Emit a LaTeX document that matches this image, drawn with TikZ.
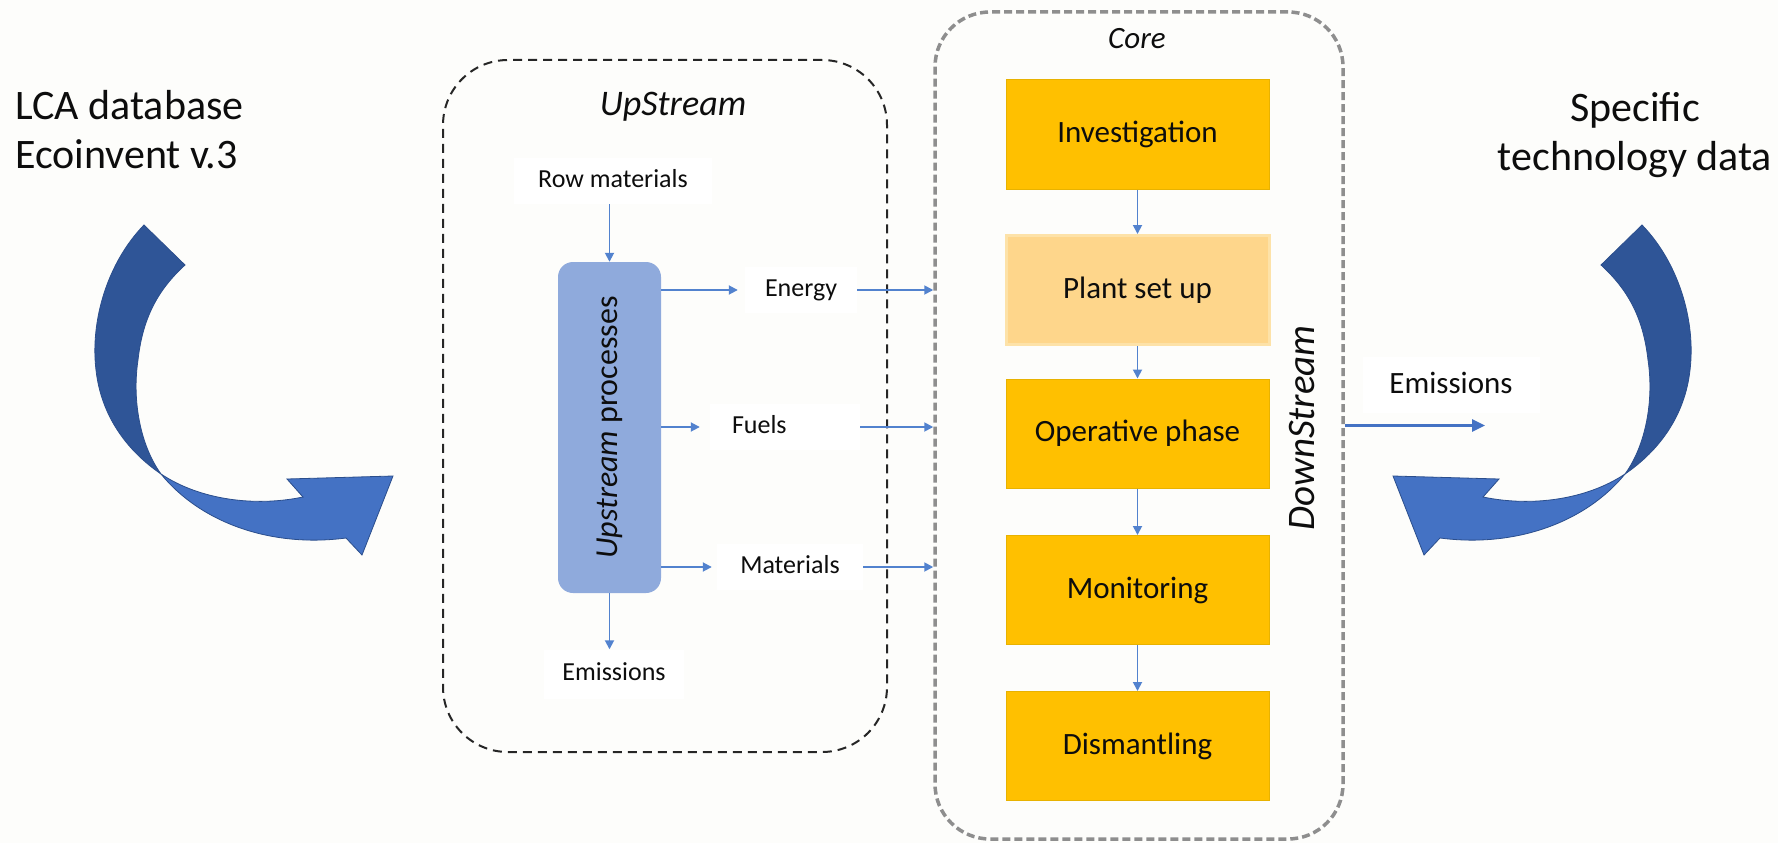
\documentclass[tikz,border=0pt]{standalone}
\usepackage{fontspec}
\setmainfont{Carlito}
\usetikzlibrary{arrows.meta}

\definecolor{canvas}{HTML}{FDFDFB}
\definecolor{ink}{HTML}{0D0D0D}
\definecolor{flowblue}{HTML}{5282CE}
\definecolor{procblue}{HTML}{8FAADC}
\definecolor{stageorange}{HTML}{FFC000}
\definecolor{stageedge}{HTML}{E8B200}
\definecolor{setupfill}{HTML}{FED68B}
\definecolor{setupedge}{HTML}{FDE2A8}
\definecolor{coregray}{HTML}{8E8E8E}
\definecolor{frameblack}{HTML}{262626}
\definecolor{ribbondark}{HTML}{2F5597}
\definecolor{ribbonlight}{HTML}{4472C4}
\definecolor{ribbonedge}{HTML}{2B4E8C}

\newcommand{\pxfont}[2]{\fontsize{#1pt}{#2pt}\selectfont}

% twisted curved arrow, drawn as a dark back half and a light front half
\tikzset{
  bendarrow/.pic={
    \fill[ribbondark, draw=ribbonedge, line width=0.8pt]
      (144,225) .. controls (108,262) and (90,320) .. (96,370)
      .. controls (101,415) and (126,450) .. (161,474)
      .. controls (140,445) and (132,400) .. (138,360)
      .. controls (143,315) and (160,288) .. (185,265) -- cycle;
    \fill[ribbonlight, draw=ribbonedge, line width=0.8pt]
      (161,474) .. controls (200,522) and (270,548) .. (346,538)
      -- (362,555) -- (393,476) -- (287,479) -- (303,497)
      .. controls (255,507) and (200,500) .. (161,474) -- cycle;
  }
}

\begin{document}
\begin{tikzpicture}[x=1pt, y=-1pt,
  flow/.style={draw=flowblue, line width=1.8pt, -{Triangle[length=9pt,width=9pt]}},
  bigflow/.style={draw=ribbonlight, line width=2.6pt, -{Triangle[length=13pt,width=12pt]}},
  lbl/.style={fill=white, text=ink, inner xsep=0pt, inner ysep=0pt,
    font=\pxfont{26}{31}, text height=19pt, text depth=6pt, align=center},
  stage/.style={draw=stageedge, fill=stageorange, line width=1pt, text=ink,
    minimum width=263pt, minimum height=109pt, inner sep=0pt, font=\pxfont{31}{37}},
  upframe/.style={draw=frameblack, line width=2pt, dash pattern=on 9pt off 6pt,
    rounded corners=65pt, inner sep=0pt},
  coreframe/.style={draw=coregray, line width=3.5pt, dash pattern=on 8pt off 4pt,
    rounded corners=55pt, inner sep=0pt},
  bigtext/.style={text=ink, inner sep=0pt, font=\pxfont{42}{49}},
]
% canvas
\fill[canvas] (0,0) rectangle (1778,843);
\useasboundingbox (0,0) rectangle (1778,843);

% side captions (anchored on the baseline of their last line) and curved arrows
\node[bigtext, anchor=base west, align=left] (lca) at (15,168)
  {LCA database\\Ecoinvent v.3};
\node[bigtext, anchor=base, align=center] (spec) at (1635,170)
  {Specific\\technology data};
\pic at (0,0) {bendarrow};
\pic[xscale=-1] at (1786,0) {bendarrow};

% upstream frame
\node[upframe, minimum width=444pt, minimum height=692pt] (upframe) at (665,406) {};
\node[text=ink, inner sep=0pt, font=\pxfont{36}{43}\itshape, anchor=base] (uptitle)
  at (673,115) {UpStream};

\node[fill=procblue, rounded corners=15pt, minimum width=103pt, minimum height=331pt,
  inner sep=0pt, text=ink, font=\pxfont{32}{38}] (upbox) at (609.5,427.5)
  {\rotatebox{90}{\textit{Upstream} processes}};

\node[lbl, minimum width=198pt, minimum height=46pt] (rowmat) at (613,181) {Row materials};
\node[lbl, minimum width=112pt, minimum height=46pt] (energy) at (801,290) {Energy};
\node[lbl, minimum width=150pt, minimum height=46pt, text width=150pt, align=left]
  (fuels) at (785,427) {\hspace*{22pt}Fuels};
\node[lbl, minimum width=146pt, minimum height=46pt] (mats) at (790,567) {Materials};
\node[lbl, minimum width=140pt, minimum height=49pt] (emisl) at (614,674) {Emissions};

\draw[flow] (rowmat.south -| upbox.north) -- (upbox.north);
\draw[flow] (upbox.south) -- (upbox.south |- emisl.north);
\draw[flow, shorten >=7pt] (upbox.east |- energy.west) -- (energy.west);
\draw[flow, shorten >=10pt] (upbox.east |- fuels.west) -- (fuels.west);
\draw[flow, shorten >=5pt] (upbox.east |- mats.west) -- (mats.west);

% core frame and its stages
\node[coreframe, minimum width=408pt, minimum height=827pt] (core) at (1139,425.5) {};
\node[text=ink, inner sep=0pt, font=\pxfont{31}{37}\itshape, anchor=base] (coretitle)
  at (1137,49) {Core};

\node[stage] (inv) at (1137.5,134.5) {Investigation};
\node[stage, fill=setupfill, draw=setupedge, line width=3pt] (setup) at (1137.5,290) {Plant set up};
\node[stage] (oper) at (1137.5,433.5) {Operative phase};
\node[stage] (mon) at (1137.5,590) {Monitoring};
\node[stage] (dis) at (1137.5,746) {Dismantling};

\draw[flow] (inv.south) -- (setup.north);
\draw[flow] (setup.south) -- (oper.north);
\draw[flow] (oper.south) -- (mon.north);
\draw[flow] (mon.south) -- (dis.north);

\node[text=ink, inner sep=0pt, font=\pxfont{39}{46}\itshape] (down) at (1302,428)
  {\rotatebox{90}{DownStream}};

% flows entering the core
\draw[flow] (energy.east) -- (energy.east -| core.west);
\draw[flow] (fuels.east) -- (fuels.east -| core.west);
\draw[flow] (mats.east) -- (mats.east -| core.west);

% downstream emissions
\node[lbl, font=\pxfont{31}{37}, text height=23pt, text depth=7pt,
  minimum width=177pt, minimum height=56pt] (emisr) at (1451,385) {Emissions};
\coordinate (emisend) at (1485,425.5);
\draw[bigflow] (core.east) -- (emisend);
\end{tikzpicture}
\end{document}
